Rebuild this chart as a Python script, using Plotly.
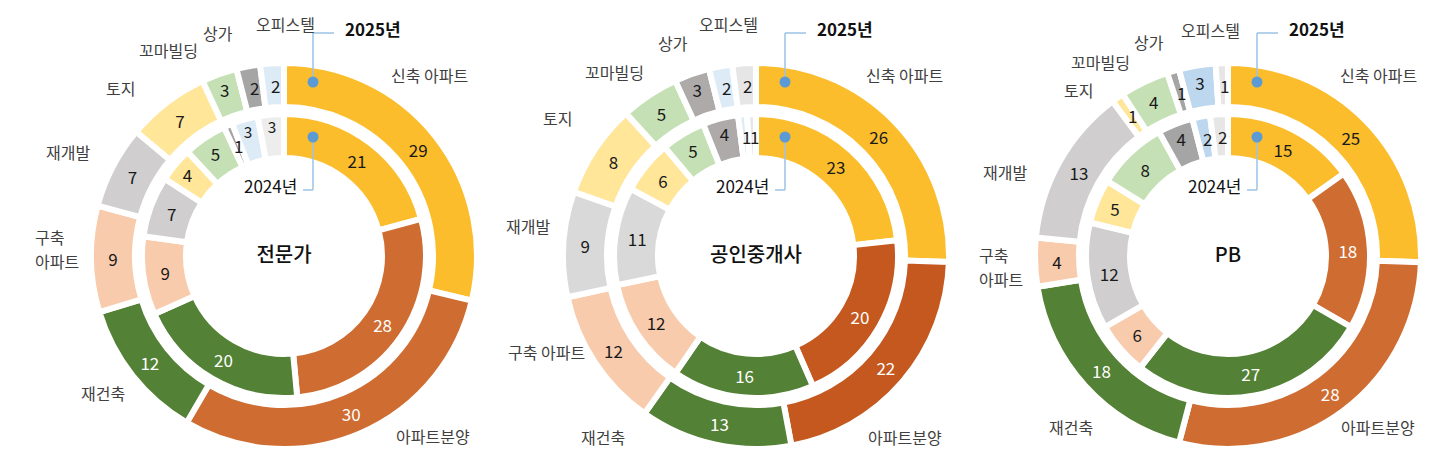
import math
import plotly.graph_objects as go

W, H = 1450, 471
OFF = 8  # page body margin in the browser

categories = ["신축 아파트", "아파트분양", "재건축", "구축 아파트", "재개발",
              "토지", "꼬마빌딩", "상가", "오피스텔", "기타"]
groups = ["전문가", "공인중개사", "PB"]

expert_2024 = [21, 28, 20, 9, 7, 4, 5, 1, 3, 3]
expert_2025 = [29, 30, 12, 9, 7, 7, 3, 2, 2, 0]
broker_2024 = [23, 20, 16, 12, 11, 6, 5, 4, 1, 1]
broker_2025 = [26, 22, 13, 12, 9, 8, 5, 3, 2, 2]
pb_2024 = [15, 18, 27, 6, 12, 5, 8, 4, 2, 2]
pb_2025 = [25, 28, 18, 4, 13, 1, 4, 1, 3, 1]

base_colors = ["#FBBD2C", "#CF6C31", "#538135", "#F8CBAD", "#D0CECE",
               "#FFE699", "#C5E0B4", "#A5A5A5", "#DDEBF7", "#EDEDED"]
broker_colors = ["#FBBD2C", "#C4581E", "#538135", "#F8CBAD", "#D9D9D9",
                 "#FFE699", "#C5E0B4", "#AEAAAA", "#DDEBF7", "#E7E6E6"]
pb_colors = ["#FBBD2C", "#CF6C31", "#538135", "#F8CBAD", "#D0CECE",
             "#FFE699", "#C5E0B4", "#A5A5A5", "#BDD7EE", "#E7E6E6"]
text_colors = ["#1a1a1a", "white", "white", "#1a1a1a", "#1a1a1a",
               "#1a1a1a", "#1a1a1a", "#1a1a1a", "#1a1a1a", "#1a1a1a"]

charts = [
    (expert_2024, expert_2025, base_colors),
    (broker_2024, broker_2025, broker_colors),
    (pb_2024, pb_2025, pb_colors),
]

centers_x = [284, 756, 1228]
cy = 256
R_out, r_out = 193, 149
R_in, r_in = 142, 98

FONT = "Noto Sans CJK KR"

fig = go.Figure()


def px(x):
    return (x - OFF) / W


def py(y):
    return 1 - (y - OFF) / H


def dom(cx, r):
    return dict(x=[px(cx - r), px(cx + r)], y=[py(cy + r), py(cy - r)])


def ring(cx, vals, cols, R, r, title=None):
    fig.add_trace(go.Pie(
        labels=categories, values=vals, sort=False, direction="clockwise",
        rotation=0, hole=r / R, domain=dom(cx, R),
        marker=dict(colors=cols, line=dict(color="white", width=6)),
        text=[str(v) if v > 2 else "" for v in vals], textinfo="text",
        textposition="inside", insidetextorientation="horizontal",
        textfont=dict(family=FONT, size=17, color=text_colors),
        title=title, hoverinfo="label+value", showlegend=False,
    ))
    # thin slices: put the value at the slice middle at full size
    total = sum(vals)
    cum = 0
    rm = (R + r) / 2
    for v in vals:
        if 0 < v <= 2:
            a = math.radians(360 * (cum + v / 2) / total)
            fig.add_annotation(
                x=px(cx + rm * math.sin(a) + 2), y=py(cy - rm * math.cos(a)),
                xref="paper", yref="paper", text=str(v), showarrow=False,
                xanchor="center", yanchor="middle",
                font=dict(family=FONT, size=17, color="#1a1a1a"))
        cum += v


for i, (v24, v25, cols) in enumerate(charts):
    cx = centers_x[i]
    ring(cx, v25, cols, R_out, r_out)
    ring(cx, v24, cols, R_in, r_in,
         title=dict(text=groups[i], position="middle center",
                    font=dict(family=FONT, size=20, color="#111111", weight=500)))

# category labels around each chart (pixel positions)
label_pos = [
    {"신축 아파트": (429, 75), "아파트분양": (433, 436), "재건축": (103, 393),
     "구축": (33, 237, "left"), "아파트": (33, 261, "left"), "재개발": (68, 152),
     "토지": (120, 88), "꼬마빌딩": (168, 50), "상가": (218, 33), "오피스텔": (285, 24)},
    {"신축 아파트": (905, 75), "아파트분양": (905, 437), "재건축": (603, 437),
     "구축 아파트": (546, 352), "재개발": (528, 226), "토지": (557, 118),
     "꼬마빌딩": (614, 72), "상가": (673, 43), "오피스텔": (728, 24)},
    {"신축 아파트": (1378, 75), "아파트분양": (1378, 427), "재건축": (1071, 427),
     "구축": (977, 255, "left"), "아파트": (977, 279, "left"), "재개발": (1005, 172),
     "토지": (1078, 90), "꼬마빌딩": (1100, 62), "상가": (1149, 42), "오피스텔": (1210, 30)},
]

for pos in label_pos:
    for txt, p in pos.items():
        anchor = p[2] if len(p) > 2 else "center"
        fig.add_annotation(
            x=px(p[0]), y=py(p[1]), xref="paper", yref="paper",
            text=txt, showarrow=False, xanchor=anchor, yanchor="middle",
            font=dict(family=FONT, size=16, color="#404040"),
        )

# year callouts
line_col = "#9DC3E6"
dot_col = "#5B9BD5"
for cx in centers_x:
    dx = cx + 29
    pts = [
        [(dx, cy - 174), (dx, 33), (dx + 21, 33)],
        [(dx, cy - 119), (dx, 190), (dx - 10, 190)],
    ]
    for seg in pts:
        for (x0, y0), (x1, y1) in zip(seg[:-1], seg[1:]):
            fig.add_shape(type="line", xref="paper", yref="paper",
                          x0=px(x0), x1=px(x1), y0=py(y0), y1=py(y1),
                          line=dict(color=line_col, width=1.5))
        x0, y0 = seg[0]
        fig.add_shape(type="circle", xref="paper", yref="paper",
                      x0=px(x0 - 5.5), x1=px(x0 + 5.5),
                      y0=py(y0 + 5.5), y1=py(y0 - 5.5),
                      fillcolor=dot_col, line=dict(width=0))
    fig.add_annotation(x=px(dx + 30), y=py(29), xref="paper", yref="paper",
                       text="<b>2025년</b>", showarrow=False, xanchor="left",
                       yanchor="middle",
                       font=dict(family=FONT, size=17, color="#111111"))
    fig.add_annotation(x=px(dx - 14), y=py(185), xref="paper", yref="paper",
                       text="2024년", showarrow=False, xanchor="right",
                       yanchor="middle",
                       font=dict(family=FONT, size=17, color="#111111"))

fig.update_layout(
    width=W, height=H, margin=dict(l=0, r=0, t=0, b=0),
    paper_bgcolor="white", plot_bgcolor="white",
    font=dict(family=FONT),
)

fig.write_html("out.html")
